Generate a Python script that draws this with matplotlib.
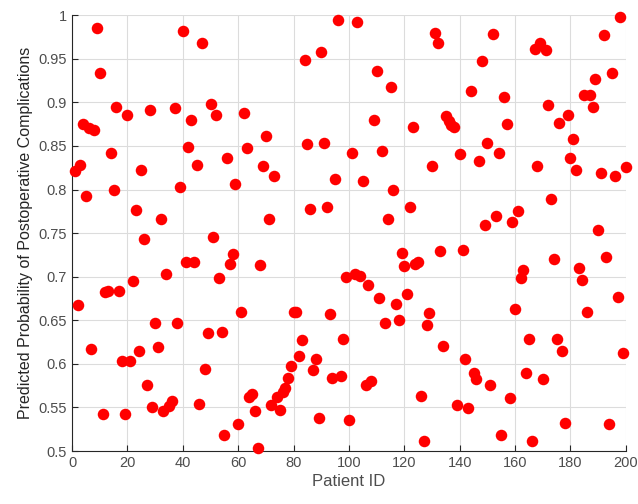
import matplotlib
matplotlib.use('Agg')
import matplotlib.pyplot as plt

plt.rcParams['font.family'] = ['Liberation Sans', 'DejaVu Sans']

patient_ids = list(range(1, 201))
probabilities = [
    0.821, 0.668, 0.828, 0.875, 0.792, 0.871, 0.617, 0.868, 0.985, 0.934,
    0.543, 0.683, 0.684, 0.842, 0.800, 0.895, 0.684, 0.603, 0.543, 0.886,
    0.603, 0.695, 0.777, 0.615, 0.822, 0.743, 0.576, 0.891, 0.550, 0.647,
    0.619, 0.766, 0.546, 0.703, 0.552, 0.557, 0.893, 0.647, 0.803, 0.982,
    0.717, 0.849, 0.880, 0.717, 0.828, 0.554, 0.968, 0.594, 0.635, 0.898,
    0.745, 0.885, 0.698, 0.636, 0.519, 0.836, 0.715, 0.726, 0.806, 0.531,
    0.659, 0.888, 0.848, 0.562, 0.565, 0.546, 0.503, 0.713, 0.827, 0.861,
    0.766, 0.553, 0.815, 0.562, 0.547, 0.568, 0.572, 0.584, 0.598, 0.659,
    0.659, 0.609, 0.627, 0.948, 0.852, 0.778, 0.593, 0.606, 0.538, 0.958,
    0.853, 0.780, 0.657, 0.584, 0.812, 0.994, 0.586, 0.629, 0.700, 0.536,
    0.842, 0.703, 0.992, 0.701, 0.810, 0.576, 0.690, 0.580, 0.880, 0.936,
    0.676, 0.844, 0.647, 0.766, 0.917, 0.799, 0.669, 0.650, 0.727, 0.712,
    0.680, 0.780, 0.872, 0.714, 0.717, 0.563, 0.512, 0.645, 0.658, 0.827,
    0.980, 0.968, 0.730, 0.621, 0.884, 0.879, 0.874, 0.872, 0.553, 0.841,
    0.731, 0.606, 0.549, 0.913, 0.589, 0.583, 0.833, 0.947, 0.759, 0.853,
    0.576, 0.978, 0.770, 0.842, 0.518, 0.906, 0.875, 0.561, 0.763, 0.663,
    0.775, 0.699, 0.708, 0.590, 0.628, 0.511, 0.961, 0.827, 0.968, 0.583,
    0.960, 0.897, 0.789, 0.720, 0.629, 0.876, 0.615, 0.532, 0.885, 0.836,
    0.858, 0.822, 0.710, 0.696, 0.908, 0.659, 0.908, 0.895, 0.927, 0.753,
    0.819, 0.977, 0.723, 0.531, 0.934, 0.815, 0.677, 0.998, 0.612, 0.826,
]
x_ticks = [0, 20, 40, 60, 80, 100, 120, 140, 160, 180, 200]
y_ticks = [0.5, 0.55, 0.6, 0.65, 0.7, 0.75, 0.8, 0.85, 0.9, 0.95, 1.0]
y_tick_labels = ['0.5', '0.55', '0.6', '0.65', '0.7', '0.75', '0.8', '0.85', '0.9', '0.95', '1']


def main():
    fig = plt.figure(figsize=(6.38, 5.04), dpi=100)
    ax = fig.add_axes([0.113, 0.105, 0.868, 0.865])

    ax.plot(patient_ids, probabilities, 'o', color='red', markersize=8.3,
            markeredgewidth=0, clip_on=False, zorder=3)

    ax.set_xlim(0, 200)
    ax.set_ylim(0.5, 1.0)
    ax.set_xticks(x_ticks)
    ax.set_yticks(y_ticks)
    ax.set_yticklabels(y_tick_labels)

    ax.grid(True, color='#dcdcdc', linewidth=0.8)
    ax.set_axisbelow(True)
    for side in ('top', 'right'):
        ax.spines[side].set_visible(False)
    for side in ('left', 'bottom'):
        ax.spines[side].set_color('#262626')
        ax.spines[side].set_linewidth(0.8)
    ax.tick_params(direction='in', length=4, colors='#262626', labelsize=10.5,
                   labelcolor='#4d4d4d')

    ax.set_xlabel('Patient ID', fontsize=12, color='#4d4d4d', labelpad=3)
    ax.set_ylabel('Predicted Probability of Postoperative Complications',
                  fontsize=11.5, color='#262626', labelpad=4)

    fig.savefig('out.png', dpi=100)
    plt.close(fig)


if __name__ == '__main__':
    main()
